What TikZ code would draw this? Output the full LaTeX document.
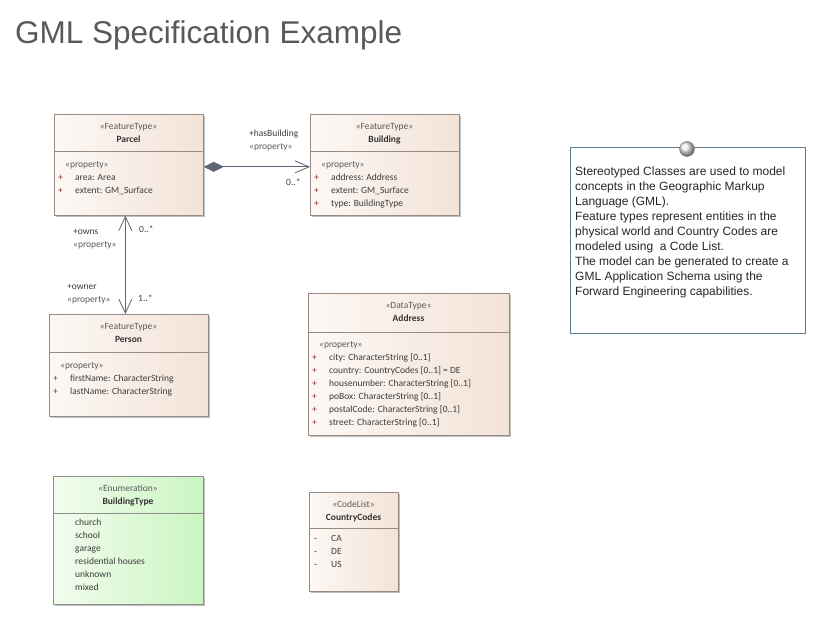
\documentclass[tikz,border=0pt]{standalone}
\usepackage{fontspec}
\setmainfont{Liberation Sans}
\newfontfamily\umlfont{Carlito}
\usetikzlibrary{arrows.meta,shadows}
\definecolor{boxline}{HTML}{9A8A84}
\definecolor{enumline}{HTML}{8E8E8E}
\definecolor{peachL}{HTML}{FCF8F5}
\definecolor{peachR}{HTML}{F3E3D7}
\definecolor{greenL}{HTML}{F2FCEE}
\definecolor{greenR}{HTML}{CBF5C1}
\definecolor{stereoc}{HTML}{5A5A5A}
\definecolor{namec}{HTML}{333333}
\definecolor{attrc}{HTML}{3C3C3C}
\definecolor{plusc}{HTML}{8E2A2A}
\definecolor{connc}{HTML}{5E6678}
\definecolor{noteline}{HTML}{5F7D8C}
\definecolor{titlec}{HTML}{595959}
\newcommand{\attrplus}{\makebox[17pt][l]{\textcolor{plusc}{+}}}
\newcommand{\attrminus}{\makebox[17pt][l]{-}}
\newcommand{\stype}[1]{\textcolor{stereoc}{«#1»}}
\newcommand{\cname}[1]{\textcolor{namec}{\textbf{#1}}}
\begin{document}
\begin{tikzpicture}[x=1pt,y=-1pt,
    classbox/.style={draw=boxline,line width=0.7pt,left color=peachL,right color=peachR,
      drop shadow={shadow xshift=2pt,shadow yshift=-2pt,fill=black!25,opacity=1},
      anchor=north west,inner sep=0pt},
    enumbox/.style={classbox,draw=enumline,left color=greenL,right color=greenR},
    headtext/.style={anchor=north,inner sep=0pt,align=center,
      font=\umlfont\fontsize{9.5}{12.5}\selectfont},
    attrtext/.style={anchor=north west,inner sep=0pt,align=left,text=attrc,
      font=\umlfont\fontsize{9.5}{13}\selectfont},
    sepline/.style={draw=boxline,line width=0.7pt},
    assoc/.style={draw=connc,line width=0.8pt},
    rolelabel/.style={anchor=base west,inner sep=0pt,text=attrc,
      font=\umlfont\fontsize{9.5}{12}\selectfont}]
  \useasboundingbox [fill=white] (0,0) rectangle (815,617);

  \node (title) [anchor=base west,inner sep=0pt,text=titlec,font=\fontsize{31.5}{36}\selectfont]
    at (15,44) {GML Specification Example};

  % classes
  \node (parcel) [classbox,minimum width=149pt,minimum height=101pt] at (54,114) {};
  \node (parcelhead) [headtext] at (128.5,121) {\strut\stype{FeatureType}\\\cname{Parcel}};
  \draw [sepline] (parcel.west |- 0,151) -- (parcel.east |- 0,151);
  \node (parcelattr) [attrtext] at (58,157.9)
    {\strut\hspace*{7pt}\stype{property}\\\attrplus area: Area\\\attrplus extent: GM\_Surface};

  \node (building) [classbox,minimum width=149pt,minimum height=101pt] at (310,114) {};
  \node (buildinghead) [headtext] at (384.5,121) {\strut\stype{FeatureType}\\\cname{Building}};
  \draw [sepline] (building.west |- 0,151) -- (building.east |- 0,151);
  \node (buildingattr) [attrtext] at (314,157.9)
    {\strut\hspace*{7pt}\stype{property}\\\attrplus address: Address\\\attrplus extent: GM\_Surface\\\attrplus type: BuildingType};

  \node (person) [classbox,minimum width=159pt,minimum height=102pt] at (49,314) {};
  \node (personhead) [headtext] at (128.5,321) {\strut\stype{FeatureType}\\\cname{Person}};
  \draw [sepline] (person.west |- 0,352) -- (person.east |- 0,352);
  \node (personattr) [attrtext] at (53,358.9)
    {\strut\hspace*{7pt}\stype{property}\\\attrplus firstName: CharacterString\\\attrplus lastName: CharacterString};

  \node (address) [classbox,minimum width=201pt,minimum height=142pt] at (308,293) {};
  \node (addresshead) [headtext] at (408.5,300) {\strut\stype{DataType}\\\cname{Address}};
  \draw [sepline] (address.west |- 0,332) -- (address.east |- 0,332);
  \node (addressattr) [attrtext] at (312,337.9)
    {\strut\hspace*{7pt}\stype{property}\\
     \attrplus city: CharacterString [0..1]\\
     \attrplus country: CountryCodes [0..1] = DE\\
     \attrplus housenumber: CharacterString [0..1]\\
     \attrplus poBox: CharacterString [0..1]\\
     \attrplus postalCode: CharacterString [0..1]\\
     \attrplus street: CharacterString [0..1]};

  \node (buildingtype) [enumbox,minimum width=150pt,minimum height=128pt] at (53,476) {};
  \node (buildingtypehead) [headtext] at (128,483) {\strut\stype{Enumeration}\\\cname{BuildingType}};
  \draw [sepline,draw=enumline] (buildingtype.west |- 0,513) -- (buildingtype.east |- 0,513);
  \node (buildingtypeval) [attrtext] at (75,515.9)
    {\strut church\\school\\garage\\residential houses\\unknown\\mixed};

  \node (countrycodes) [classbox,minimum width=89pt,minimum height=99pt] at (309,492) {};
  \node (countrycodeshead) [headtext] at (353.5,499) {\strut\stype{CodeList}\\\cname{CountryCodes}};
  \draw [sepline] (countrycodes.west |- 0,528) -- (countrycodes.east |- 0,528);
  \node (countrycodesval) [attrtext] at (314,531.9)
    {\strut\attrminus CA\\\attrminus DE\\\attrminus US};

  % associations
  \draw [assoc,{Diamond[length=20pt,width=10pt,fill=connc]}-{Straight Barb[length=14pt,width=12pt]}]
    ([yshift=-2pt]parcel.east) -- ([yshift=-2pt]building.west);
  \node (hasbuilding) [rolelabel] at (249,137) {+hasBuilding};
  \node (hasbuildingst) [rolelabel] at (249,150) {\stype{property}};
  \node (hasbuildingm) [rolelabel] at (286,186) {0..*};

  \draw [assoc,{Straight Barb[length=14pt,width=13pt]}-{Straight Barb[length=14pt,width=13pt]}]
    ([xshift=-3.5pt]parcel.south) -- ([xshift=-3.5pt]person.north);
  \node (owns) [rolelabel] at (73,235) {+owns};
  \node (ownsst) [rolelabel] at (73,248) {\stype{property}};
  \node (ownsm) [rolelabel] at (139,233) {0..*};
  \node (owner) [rolelabel] at (67,290) {+owner};
  \node (ownerst) [rolelabel] at (67,303) {\stype{property}};
  \node (ownerm) [rolelabel] at (138,302) {1..*};

  % note
  \node (note) [draw=noteline,line width=0.8pt,fill=white,anchor=north west,inner sep=0pt,
    minimum width=235pt,minimum height=186pt] at (570,147) {};
  \shade [draw=gray,line width=0.5pt,ball color=white!85!gray] (687,149) circle [radius=7.5pt];
  \node (notetext) [anchor=north west,inner sep=0pt,align=left,text=black!85,
    font=\fontsize{12}{15}\selectfont] at (575,164.5)
    {\strut Stereotyped Classes are used to model\\
     concepts in the Geographic Markup\\
     Language (GML).\\
     Feature types represent entities in the\\
     physical world and Country Codes are\\
     modeled using~ a Code List.\\
     The model can be generated to create a\\
     GML Application Schema using the\\
     Forward Engineering capabilities.};
\end{tikzpicture}
\end{document}
